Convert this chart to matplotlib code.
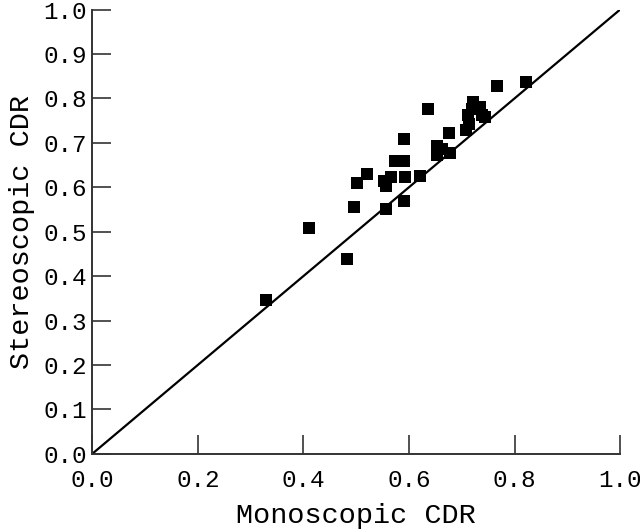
import numpy as np
import matplotlib
matplotlib.use("Agg")
import matplotlib.pyplot as plt

# monoscopic vs stereoscopic cup/disc ratio
mono = [0.330, 0.411, 0.483, 0.496, 0.557, 0.590, 0.502, 0.520, 0.553, 0.557,
        0.566, 0.592, 0.620, 0.574, 0.591, 0.590, 0.637, 0.653, 0.653, 0.662,
        0.678, 0.675, 0.708, 0.713, 0.712, 0.719, 0.722, 0.735, 0.738, 0.744,
        0.766, 0.821]
stereo = [0.347, 0.508, 0.438, 0.556, 0.550, 0.568, 0.609, 0.629, 0.614, 0.602,
          0.624, 0.623, 0.626, 0.658, 0.658, 0.708, 0.777, 0.693, 0.673, 0.686,
          0.676, 0.723, 0.729, 0.743, 0.763, 0.777, 0.792, 0.781, 0.762, 0.758,
          0.827, 0.837]

x_ticks = np.arange(0, 1.01, 0.2)
y_ticks = np.arange(0, 1.01, 0.1)

plt.rcParams['font.family'] = ['Liberation Mono', 'DejaVu Sans Mono']

fig = plt.figure(figsize=(6.4, 5.29), dpi=100)
ax = fig.add_axes([0.144, 0.142, 0.825, 0.840])

ax.plot([0, 1], [0, 1], color='black', linewidth=1.6)
ax.scatter(mono, stereo, marker='s', s=78, color='black', linewidths=0, zorder=3)

ax.set_xlim(0, 1)
ax.set_ylim(0, 1)
ax.set_xticks(x_ticks)
ax.set_yticks(y_ticks)
ax.set_xticklabels([f"{v:.1f}" for v in x_ticks])
ax.set_yticklabels([f"{v:.1f}" for v in y_ticks], va='center_baseline')

for side in ['top', 'right']:
    ax.spines[side].set_visible(False)
for side in ['left', 'bottom']:
    ax.spines[side].set_color('#333333')
    ax.spines[side].set_linewidth(1.4)

ax.tick_params(axis='both', direction='in', length=14, width=1.2, color='#333333',
               labelsize=17.5)
ax.tick_params(axis='x', pad=11)
ax.tick_params(axis='y', pad=4)

ax.set_xlabel('Monoscopic CDR', fontsize=20.5, labelpad=8)
ax.set_ylabel('Stereoscopic CDR', fontsize=20.5, labelpad=6)

fig.savefig('out.png', dpi=100)
